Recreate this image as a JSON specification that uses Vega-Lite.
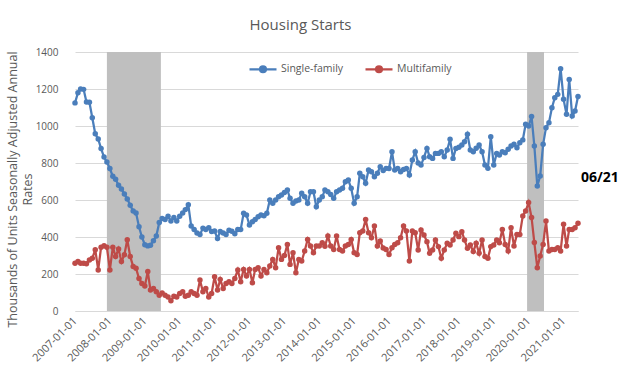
{
  "$schema": "https://vega.github.io/schema/vega-lite/v6.json",
  "width": 503,
  "height": 259,
  "autosize": {"type": "none"},
  "padding": {"left": 75, "top": 52, "right": 46, "bottom": 64},
  "background": "white",
  "config": {
    "view": {"stroke": null},
    "font": "Open Sans",
    "axisX": {
      "labelFont": "Open Sans", "labelFontSize": 11, "labelColor": "#595959", "labelPadding": 8,
      "labelFlush": false, "labelBound": false,
      "ticks": false, "grid": false, "domain": true, "domainColor": "#d9d9d9", "domainWidth": 1
    }
  },
  "title": {"text": "Housing Starts", "fontSize": 15, "font": "Open Sans", "fontWeight": "normal", "color": "#595959", "anchor": "middle", "frame": "group", "dx": -26, "offset": 14},
  "datasets": {
    "starts": [
      {"d":"2007-01-01","Single-family":1125,"Multifamily":258},{"d":"2007-02-01","Single-family":1180,"Multifamily":267},{"d":"2007-03-01","Single-family":1200,"Multifamily":258},{"d":"2007-04-01","Single-family":1198,"Multifamily":258},{"d":"2007-05-01","Single-family":1130,"Multifamily":255},{"d":"2007-06-01","Single-family":1128,"Multifamily":276},{"d":"2007-07-01","Single-family":1045,"Multifamily":285},{"d":"2007-08-01","Single-family":958,"Multifamily":331},{"d":"2007-09-01","Single-family":930,"Multifamily":222},{"d":"2007-10-01","Single-family":878,"Multifamily":345},{"d":"2007-11-01","Single-family":832,"Multifamily":353},{"d":"2007-12-01","Single-family":805,"Multifamily":345},
      {"d":"2008-01-01","Single-family":770,"Multifamily":222},{"d":"2008-02-01","Single-family":728,"Multifamily":345},{"d":"2008-03-01","Single-family":712,"Multifamily":295},{"d":"2008-04-01","Single-family":680,"Multifamily":335},{"d":"2008-05-01","Single-family":660,"Multifamily":267},{"d":"2008-06-01","Single-family":632,"Multifamily":304},{"d":"2008-07-01","Single-family":606,"Multifamily":385},{"d":"2008-08-01","Single-family":572,"Multifamily":295},{"d":"2008-09-01","Single-family":540,"Multifamily":240},{"d":"2008-10-01","Single-family":530,"Multifamily":231},{"d":"2008-11-01","Single-family":455,"Multifamily":176},{"d":"2008-12-01","Single-family":400,"Multifamily":149},
      {"d":"2009-01-01","Single-family":358,"Multifamily":135},{"d":"2009-02-01","Single-family":352,"Multifamily":213},{"d":"2009-03-01","Single-family":356,"Multifamily":113},{"d":"2009-04-01","Single-family":380,"Multifamily":122},{"d":"2009-05-01","Single-family":405,"Multifamily":104},{"d":"2009-06-01","Single-family":478,"Multifamily":85},{"d":"2009-07-01","Single-family":500,"Multifamily":98},{"d":"2009-08-01","Single-family":494,"Multifamily":85},{"d":"2009-09-01","Single-family":512,"Multifamily":76},{"d":"2009-10-01","Single-family":486,"Multifamily":55},{"d":"2009-11-01","Single-family":505,"Multifamily":80},{"d":"2009-12-01","Single-family":486,"Multifamily":76},
      {"d":"2010-01-01","Single-family":512,"Multifamily":95},{"d":"2010-02-01","Single-family":530,"Multifamily":104},{"d":"2010-03-01","Single-family":548,"Multifamily":80},{"d":"2010-04-01","Single-family":574,"Multifamily":85},{"d":"2010-05-01","Single-family":460,"Multifamily":104},{"d":"2010-06-01","Single-family":440,"Multifamily":95},{"d":"2010-07-01","Single-family":422,"Multifamily":85},{"d":"2010-08-01","Single-family":413,"Multifamily":167},{"d":"2010-09-01","Single-family":448,"Multifamily":104},{"d":"2010-10-01","Single-family":440,"Multifamily":122},{"d":"2010-11-01","Single-family":450,"Multifamily":76},{"d":"2010-12-01","Single-family":430,"Multifamily":95},
      {"d":"2011-01-01","Single-family":432,"Multifamily":185},{"d":"2011-02-01","Single-family":392,"Multifamily":113},{"d":"2011-03-01","Single-family":430,"Multifamily":171},{"d":"2011-04-01","Single-family":422,"Multifamily":122},{"d":"2011-05-01","Single-family":414,"Multifamily":149},{"d":"2011-06-01","Single-family":436,"Multifamily":158},{"d":"2011-07-01","Single-family":431,"Multifamily":149},{"d":"2011-08-01","Single-family":418,"Multifamily":176},{"d":"2011-09-01","Single-family":440,"Multifamily":222},{"d":"2011-10-01","Single-family":440,"Multifamily":158},{"d":"2011-11-01","Single-family":528,"Multifamily":225},{"d":"2011-12-01","Single-family":519,"Multifamily":189},
      {"d":"2012-01-01","Single-family":465,"Multifamily":225},{"d":"2012-02-01","Single-family":483,"Multifamily":153},{"d":"2012-03-01","Single-family":495,"Multifamily":225},{"d":"2012-04-01","Single-family":510,"Multifamily":234},{"d":"2012-05-01","Single-family":519,"Multifamily":189},{"d":"2012-06-01","Single-family":515,"Multifamily":225},{"d":"2012-07-01","Single-family":528,"Multifamily":207},{"d":"2012-08-01","Single-family":600,"Multifamily":243},{"d":"2012-09-01","Single-family":582,"Multifamily":279},{"d":"2012-10-01","Single-family":600,"Multifamily":234},{"d":"2012-11-01","Single-family":618,"Multifamily":342},{"d":"2012-12-01","Single-family":627,"Multifamily":279},
      {"d":"2013-01-01","Single-family":640,"Multifamily":300},{"d":"2013-02-01","Single-family":654,"Multifamily":360},{"d":"2013-03-01","Single-family":609,"Multifamily":252},{"d":"2013-04-01","Single-family":582,"Multifamily":315},{"d":"2013-05-01","Single-family":595,"Multifamily":207},{"d":"2013-06-01","Single-family":600,"Multifamily":279},{"d":"2013-07-01","Single-family":636,"Multifamily":270},{"d":"2013-08-01","Single-family":618,"Multifamily":324},{"d":"2013-09-01","Single-family":582,"Multifamily":387},{"d":"2013-10-01","Single-family":645,"Multifamily":351},{"d":"2013-11-01","Single-family":645,"Multifamily":315},{"d":"2013-12-01","Single-family":564,"Multifamily":351},
      {"d":"2014-01-01","Single-family":600,"Multifamily":351},{"d":"2014-02-01","Single-family":618,"Multifamily":369},{"d":"2014-03-01","Single-family":654,"Multifamily":350},{"d":"2014-04-01","Single-family":645,"Multifamily":405},{"d":"2014-05-01","Single-family":630,"Multifamily":351},{"d":"2014-06-01","Single-family":609,"Multifamily":333},{"d":"2014-07-01","Single-family":645,"Multifamily":405},{"d":"2014-08-01","Single-family":654,"Multifamily":333},{"d":"2014-09-01","Single-family":663,"Multifamily":324},{"d":"2014-10-01","Single-family":699,"Multifamily":351},{"d":"2014-11-01","Single-family":708,"Multifamily":360},{"d":"2014-12-01","Single-family":663,"Multifamily":387},
      {"d":"2015-01-01","Single-family":582,"Multifamily":315},{"d":"2015-02-01","Single-family":618,"Multifamily":306},{"d":"2015-03-01","Single-family":744,"Multifamily":423},{"d":"2015-04-01","Single-family":726,"Multifamily":432},{"d":"2015-05-01","Single-family":690,"Multifamily":495},{"d":"2015-06-01","Single-family":762,"Multifamily":423},{"d":"2015-07-01","Single-family":753,"Multifamily":396},{"d":"2015-08-01","Single-family":726,"Multifamily":459},{"d":"2015-09-01","Single-family":745,"Multifamily":351},{"d":"2015-10-01","Single-family":780,"Multifamily":378},{"d":"2015-11-01","Single-family":760,"Multifamily":340},{"d":"2015-12-01","Single-family":771,"Multifamily":333},
      {"d":"2016-01-01","Single-family":770,"Multifamily":306},{"d":"2016-02-01","Single-family":861,"Multifamily":342},{"d":"2016-03-01","Single-family":762,"Multifamily":360},{"d":"2016-04-01","Single-family":771,"Multifamily":369},{"d":"2016-05-01","Single-family":753,"Multifamily":396},{"d":"2016-06-01","Single-family":765,"Multifamily":459},{"d":"2016-07-01","Single-family":771,"Multifamily":432},{"d":"2016-08-01","Single-family":735,"Multifamily":270},{"d":"2016-09-01","Single-family":816,"Multifamily":432},{"d":"2016-10-01","Single-family":861,"Multifamily":423},{"d":"2016-11-01","Single-family":800,"Multifamily":330},{"d":"2016-12-01","Single-family":789,"Multifamily":438},
      {"d":"2017-01-01","Single-family":830,"Multifamily":411},{"d":"2017-02-01","Single-family":879,"Multifamily":375},{"d":"2017-03-01","Single-family":834,"Multifamily":312},{"d":"2017-04-01","Single-family":825,"Multifamily":330},{"d":"2017-05-01","Single-family":852,"Multifamily":384},{"d":"2017-06-01","Single-family":852,"Multifamily":348},{"d":"2017-07-01","Single-family":861,"Multifamily":285},{"d":"2017-08-01","Single-family":834,"Multifamily":330},{"d":"2017-09-01","Single-family":870,"Multifamily":366},{"d":"2017-10-01","Single-family":928,"Multifamily":357},{"d":"2017-11-01","Single-family":825,"Multifamily":384},{"d":"2017-12-01","Single-family":879,"Multifamily":420},
      {"d":"2018-01-01","Single-family":885,"Multifamily":402},{"d":"2018-02-01","Single-family":897,"Multifamily":429},{"d":"2018-03-01","Single-family":915,"Multifamily":384},{"d":"2018-04-01","Single-family":955,"Multifamily":339},{"d":"2018-05-01","Single-family":870,"Multifamily":357},{"d":"2018-06-01","Single-family":861,"Multifamily":321},{"d":"2018-07-01","Single-family":880,"Multifamily":366},{"d":"2018-08-01","Single-family":897,"Multifamily":312},{"d":"2018-09-01","Single-family":861,"Multifamily":384},{"d":"2018-10-01","Single-family":789,"Multifamily":294},{"d":"2018-11-01","Single-family":771,"Multifamily":285},{"d":"2018-12-01","Single-family":942,"Multifamily":348},
      {"d":"2019-01-01","Single-family":789,"Multifamily":357},{"d":"2019-02-01","Single-family":852,"Multifamily":384},{"d":"2019-03-01","Single-family":843,"Multifamily":369},{"d":"2019-04-01","Single-family":861,"Multifamily":441},{"d":"2019-05-01","Single-family":856,"Multifamily":360},{"d":"2019-06-01","Single-family":874,"Multifamily":324},{"d":"2019-07-01","Single-family":892,"Multifamily":450},{"d":"2019-08-01","Single-family":901,"Multifamily":351},{"d":"2019-09-01","Single-family":883,"Multifamily":414},{"d":"2019-10-01","Single-family":910,"Multifamily":414},{"d":"2019-11-01","Single-family":925,"Multifamily":514},{"d":"2019-12-01","Single-family":1009,"Multifamily":540},
      {"d":"2020-01-01","Single-family":1000,"Multifamily":586},{"d":"2020-02-01","Single-family":1051,"Multifamily":505},{"d":"2020-03-01","Single-family":892,"Multifamily":370},{"d":"2020-04-01","Single-family":676,"Multifamily":234},{"d":"2020-05-01","Single-family":730,"Multifamily":297},{"d":"2020-06-01","Single-family":901,"Multifamily":360},{"d":"2020-07-01","Single-family":991,"Multifamily":486},{"d":"2020-08-01","Single-family":1018,"Multifamily":324},{"d":"2020-09-01","Single-family":1099,"Multifamily":333},{"d":"2020-10-01","Single-family":1153,"Multifamily":333},{"d":"2020-11-01","Single-family":1171,"Multifamily":342},{"d":"2020-12-01","Single-family":1310,"Multifamily":324},
      {"d":"2021-01-01","Single-family":1144,"Multifamily":469},{"d":"2021-02-01","Single-family":1063,"Multifamily":351},{"d":"2021-03-01","Single-family":1252,"Multifamily":441},{"d":"2021-04-01","Single-family":1054,"Multifamily":441},{"d":"2021-05-01","Single-family":1081,"Multifamily":450},{"d":"2021-06-01","Single-family":1159,"Multifamily":474}
    ],
    "recessions": [
      {"d": "2007-12-01", "d2": "2009-06-18"},
      {"d": "2019-12-16", "d2": "2020-06-10"}
    ],
    "note": [{"d": "2021-06-01", "value": 720, "t": "06/21"}]
  },
  "encoding": {
    "x": {
      "field": "d", "type": "temporal",
      "scale": {"domain": ["2007-01-01", "2021-06-01"], "nice": false},
      "axis": {
        "title": null, "format": "%Y-%m-%d",
        "values": ["2007-01-01", "2008-01-01", "2009-01-01", "2010-01-01", "2011-01-01", "2012-01-01", "2013-01-01", "2014-01-01", "2015-01-01", "2016-01-01", "2017-01-01", "2018-01-01", "2019-01-01", "2020-01-01", "2021-01-01"],
        "labelAngle": -45, "labelAlign": "right", "labelBaseline": "middle", "labelOverlap": false
      }
    },
    "y": {
      "field": "value", "type": "quantitative",
      "scale": {"domain": [0, 1400], "nice": false},
      "axis": {
        "values": [0, 200, 400, 600, 800, 1000, 1200, 1400], "format": "d", "labelOverlap": false,
        "title": ["Thousands of Units Seasonally Adjusted Annual", "Rates"],
        "titleFont": "Open Sans", "titleFontSize": 12.5, "titleFontWeight": "normal", "titleColor": "#595959",
        "titleAngle": -90, "titleX": -69, "titleY": 137, "titleAlign": "center", "titleBaseline": "top", "titleLineHeight": 15,
        "labelFont": "Open Sans", "labelFontSize": 10, "labelColor": "#595959", "labelPadding": 17,
        "ticks": false, "domain": false, "grid": true, "gridColor": "#d9d9d9", "gridWidth": 1
      }
    }
  },
  "layer": [
    {
      "data": {"name": "recessions"},
      "mark": {"type": "rect", "color": "#bfbfbf"},
      "encoding": {
        "x2": {"field": "d2"},
        "y": null
      }
    },
    {
      "data": {"name": "starts"},
      "transform": [{"fold": ["Single-family", "Multifamily"], "as": ["series", "value"]}],
      "mark": {"type": "line", "strokeWidth": 2.25, "point": {"filled": true, "size": 30, "opacity": 1}},
      "encoding": {
        "color": {
          "field": "series", "type": "nominal",
          "scale": {"domain": ["Single-family", "Multifamily"], "range": ["#4a7ebb", "#be4b48"]},
          "legend": {
            "title": null, "orient": "none", "direction": "horizontal", "legendX": 173, "legendY": 2,
            "symbolType": "M-1,0L1,0M-0.22,0a0.22,0.22 0 1,0 0.44,0a0.22,0.22 0 1,0 -0.44,0",
            "symbolSize": 729, "symbolStrokeWidth": 2.25,
            "labelFont": "Open Sans", "labelFontSize": 10.5, "labelColor": "#595959", "labelOffset": 3,
            "columnPadding": 17, "padding": 0,
            "encode": {"symbols": {"update": {"fill": {"scale": "color", "field": "value"}, "stroke": {"scale": "color", "field": "value"}}}}
          }
        }
      }
    },
    {
      "data": {"name": "note"},
      "mark": {"type": "text", "align": "left", "baseline": "middle", "dx": 3, "font": "Open Sans", "fontSize": 14, "fontWeight": "bold", "color": "#000000"},
      "encoding": {
        "text": {"field": "t"}
      }
    }
  ]
}
